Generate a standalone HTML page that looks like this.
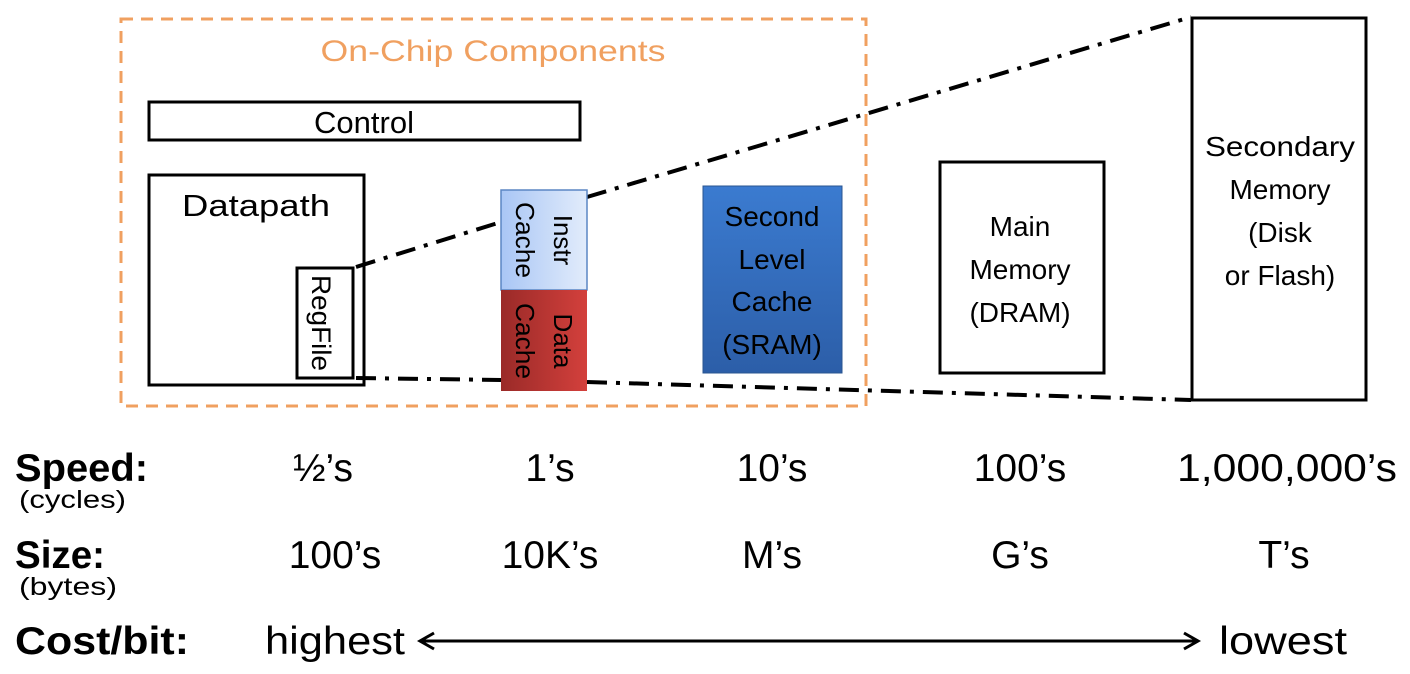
<!DOCTYPE html>
<html><head><meta charset="utf-8"><style>html,body{margin:0;padding:0;background:#fff}svg{display:block}</style></head>
<body>
<svg width="1410" height="674" viewBox="0 0 1410 674" xmlns="http://www.w3.org/2000/svg" font-family="Liberation Sans, sans-serif">
<defs>
<linearGradient id="ic" x1="0" x2="1"><stop offset="0" stop-color="#a9c6f5"/><stop offset="1" stop-color="#e2ecfb"/></linearGradient>
<linearGradient id="dc" x1="0" x2="1"><stop offset="0" stop-color="#9a2a28"/><stop offset="1" stop-color="#d3403c"/></linearGradient>
<linearGradient id="l2" x1="0" x2="0" y1="0" y2="1"><stop offset="0" stop-color="#3b7bd0"/><stop offset="1" stop-color="#2c5ea8"/></linearGradient>
</defs>
<rect x="121" y="19" width="745" height="387" fill="none" stroke="#f0a060" stroke-width="3" stroke-dasharray="12,8"/>
<text x="493" y="61" font-size="30" fill="#f0a060" text-anchor="middle" textLength="345" lengthAdjust="spacingAndGlyphs">On-Chip Components</text>
<rect x="149" y="102" width="431" height="38" fill="none" stroke="#000" stroke-width="3"/>
<text x="364" y="133" font-size="31" text-anchor="middle">Control</text>
<rect x="149" y="175" width="215" height="210" fill="none" stroke="#000" stroke-width="3"/>
<text x="256" y="216" font-size="31" text-anchor="middle" textLength="148" lengthAdjust="spacingAndGlyphs">Datapath</text>
<rect x="297" y="268" width="56" height="110" fill="none" stroke="#000" stroke-width="3"/>
<text transform="translate(312,323) rotate(90)" font-size="27" text-anchor="middle" textLength="96" lengthAdjust="spacingAndGlyphs">RegFile</text>
<g stroke="#000" stroke-width="4" fill="none" stroke-dasharray="20,9,4,9">
<line x1="356" y1="267" x2="501" y2="222"/>
<line x1="587" y1="197" x2="1191" y2="17"/>
<line x1="356" y1="378" x2="501" y2="380"/>
<line x1="587" y1="382" x2="1191" y2="400"/>
</g>
<rect x="501" y="190" width="86" height="100" fill="url(#ic)" stroke="#5b86c4" stroke-width="1.5"/>
<rect x="501" y="290" width="86" height="101" fill="url(#dc)"/>
<g font-size="26" text-anchor="middle">
<text transform="translate(554,240) rotate(90)">Instr</text>
<text transform="translate(516,240) rotate(90)" textLength="76" lengthAdjust="spacingAndGlyphs">Cache</text>
<text transform="translate(554,341) rotate(90)">Data</text>
<text transform="translate(516,341) rotate(90)" textLength="76" lengthAdjust="spacingAndGlyphs">Cache</text>
</g>
<rect x="703" y="186" width="139" height="187" fill="url(#l2)" stroke="#2a5590" stroke-width="1"/>
<g font-size="28" text-anchor="middle" fill="#000">
<text x="772" y="226">Second</text><text x="772" y="269">Level</text><text x="772" y="311">Cache</text><text x="772" y="354">(SRAM)</text>
</g>
<rect x="940" y="162" width="164" height="211" fill="none" stroke="#000" stroke-width="3"/>
<g font-size="28" text-anchor="middle">
<text x="1020" y="236">Main</text><text x="1020" y="279">Memory</text><text x="1020" y="322">(DRAM)</text>
</g>
<rect x="1192" y="18" width="174" height="382" fill="none" stroke="#000" stroke-width="3"/>
<g font-size="28" text-anchor="middle">
<text x="1280" y="156" textLength="150" lengthAdjust="spacingAndGlyphs">Secondary</text><text x="1280" y="199">Memory</text><text x="1280" y="242">(Disk</text><text x="1280" y="285">or Flash)</text>
</g>
<g font-weight="bold" font-size="39">
<text x="15" y="481" textLength="133" lengthAdjust="spacingAndGlyphs">Speed:</text><text x="15" y="568" textLength="90" lengthAdjust="spacingAndGlyphs">Size:</text><text x="15" y="654" textLength="174" lengthAdjust="spacingAndGlyphs">Cost/bit:</text>
</g>
<g font-size="25"><text x="19" y="508" textLength="107" lengthAdjust="spacingAndGlyphs">(cycles)</text><text x="19" y="595" textLength="98" lengthAdjust="spacingAndGlyphs">(bytes)</text></g>
<g font-size="39" text-anchor="middle">
<text x="323" y="481">½’s</text><text x="550" y="481">1’s</text><text x="772" y="481">10’s</text><text x="1020" y="481">100’s</text><text x="1287" y="481" textLength="220" lengthAdjust="spacingAndGlyphs">1,000,000’s</text>
<text x="335" y="568">100’s</text><text x="550" y="568">10K’s</text><text x="772" y="568">M’s</text><text x="1020" y="568">G’s</text><text x="1284" y="568">T’s</text>
<text x="335" y="654" textLength="140" lengthAdjust="spacingAndGlyphs">highest</text><text x="1283" y="654" textLength="128" lengthAdjust="spacingAndGlyphs">lowest</text>
</g>
<line x1="422" y1="641" x2="1196" y2="641" stroke="#000" stroke-width="3"/>
<path d="M434,633 L420,641 L434,649" fill="none" stroke="#000" stroke-width="3"/>
<path d="M1184,633 L1198,641 L1184,649" fill="none" stroke="#000" stroke-width="3"/>
</svg>
</body></html>
